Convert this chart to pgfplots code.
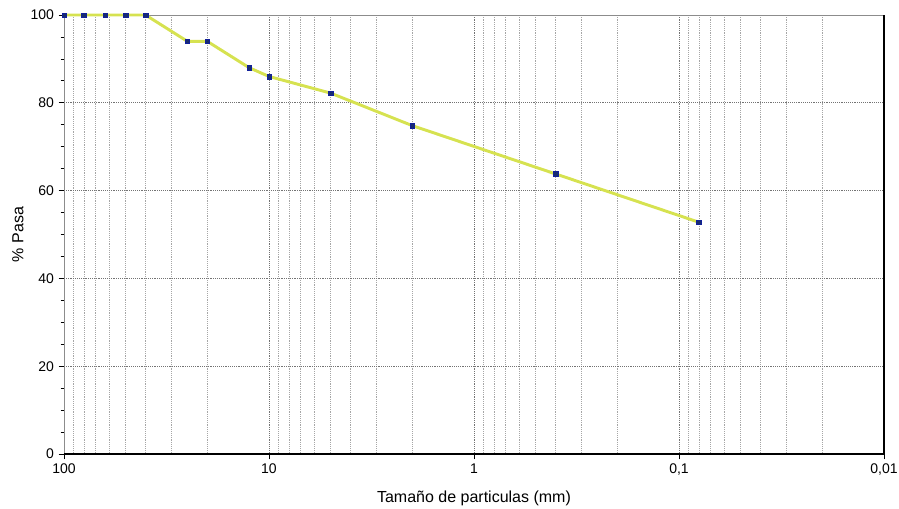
\documentclass[border=0pt]{standalone}
\usepackage{fontspec}
\setmainfont{Liberation Sans}
\usepackage{pgfplots}
\pgfplotsset{compat=1.18}
\definecolor{curve}{RGB}{214,226,80}
\definecolor{mk}{RGB}{25,45,110}
\begin{document}
\begin{tikzpicture}
\useasboundingbox (-48pt,-40.5pt) rectangle (626.25pt,340.5pt);
\begin{axis}[
  at={(0,0)}, anchor=south west,
  scale only axis,
  width=615pt, height=329.25pt,
  xmode=log, x dir=reverse,
  xmin=0.01, xmax=100,
  ymin=0, ymax=100,
  xtick={100,10,1,0.1,0.01},
  xticklabels={100,10,1,{0,1},{0,01}},
  minor xtick={0.02,0.03,0.04,0.05,0.06,0.07,0.08,0.09,
               0.2,0.3,0.4,0.5,0.6,0.7,0.8,0.9,
               2,3,4,5,6,7,8,9,
               20,30,40,50,60,70,80,90},
  ytick={0,20,40,60,80,100},
  extra y ticks={5,10,15,25,30,35,45,50,55,65,70,75,85,90,95},
  extra y tick labels={},
  extra tick style={major tick length=2.5pt, grid=none},
  xtick pos=bottom, ytick pos=left,
  tick align=outside,
  major tick length=4pt,
  minor tick length=0pt,
  xmajorgrids=true, xminorgrids=true, ymajorgrids=true,
  major grid style={densely dotted, black!55, line width=0.5pt},
  minor grid style={densely dotted, black!35, line width=0.5pt},
  axis line style={black!45},
  tick style={black, line width=0.6pt},
  tick label style={font=\fontsize{10.5}{12}\selectfont},
  /pgf/number format/assume math mode=true,
  xlabel={Tamaño de particulas (mm)},
  ylabel={\% Pasa},
  every axis x label/.style={at={(axis description cs:0.5,0)}, yshift=-33pt, anchor=center, font=\fontsize{12}{14}\selectfont},
  every axis y label/.style={at={(axis description cs:0,0.5)}, xshift=-34.5pt, rotate=90, anchor=center, font=\fontsize{12}{14}\selectfont},
  clip=false,
]
\addplot[color=curve, line width=2.2pt, mark=square*, mark size=1.7pt,
  mark options={fill=mk, draw=mk!70!blue, line width=0.3pt}]
  coordinates {
  (100,100) (80,100) (63,100) (50,100) (40,100)
  (25,94) (20,94) (12.5,88) (10,86) (5,82.2)
  (2,74.8) (0.4,63.8) (0.08,52.8)
  };
\draw[black, line width=1.2pt] (axis description cs:0,0) -- (axis description cs:1,0) -- (axis description cs:1,1);
\end{axis}
\end{tikzpicture}
\end{document}
